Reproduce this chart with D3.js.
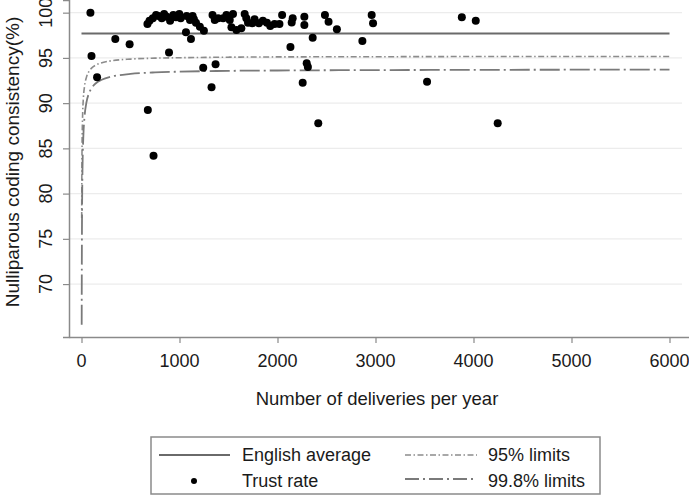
<!DOCTYPE html>
<html>
<head>
<meta charset="utf-8">
<script src="https://cdn.jsdelivr.net/npm/d3@7"></script>
<style>
  html, body { margin: 0; padding: 0; background: #fff; }
  svg { display: block; font-family: "Liberation Sans", Arial, Helvetica, sans-serif; }
</style>
</head>
<body>
<svg id="chart" width="689" height="498"></svg>
<script>
// ---- data ----
const deliveries = [
  91, 102, 159, 345, 491, 677, 735, 893, 1066, 1117, 1242, 1327, 1368,
  2132, 2145, 2257, 2274, 2274, 2298, 2310, 2359, 2416, 2484, 2521, 2606,
  2866, 2961, 2975, 3526, 3881, 4023, 4247,
  673, 694, 728, 761, 785, 819, 843, 870, 904, 937, 964, 998, 1012, 1073,
  1107, 1134, 1147, 1168, 1208, 1249, 1337, 1360, 1394, 1445, 1479, 1513,
  1546, 1530, 1581, 1631, 1665, 1682, 1699, 1743, 1766, 1810, 1851, 1892,
  1926, 1970, 2020, 2047, 2155
];
const consistency = [
  100.0, 95.2, 92.85, 97.1, 96.5, 89.24, 84.18, 95.6, 97.83, 97.1, 93.9, 91.75, 94.3,
  96.2, 98.9, 92.26, 99.56, 98.64, 94.4, 94.0, 97.23, 87.77, 99.75, 99.0, 98.16,
  96.87, 99.75, 98.83, 92.37, 99.49, 99.12, 87.77,
  98.75, 99.12, 99.38, 99.75, 99.63, 99.38, 99.86, 99.56, 99.12, 99.75, 99.49, 99.86, 99.38, 99.63,
  99.19, 99.63, 99.27, 98.89, 98.45, 98.0, 99.75, 99.19, 99.38, 99.38, 99.75, 99.19,
  99.86, 98.38, 98.09, 98.27, 99.86, 99.38, 98.89, 98.83, 99.27, 98.83, 99.12, 98.89,
  98.53, 98.75, 98.75, 99.75, 99.38
];
const englishAverage = 97.7;
const limitN    = [2.1, 3, 5, 10, 20, 30, 50, 75, 100, 150, 200, 300, 500, 750, 1000, 1500, 2000, 3000, 4000, 6000];
const limit95   = [77.3, 80.55, 84.32, 88.08, 90.67, 91.78, 92.85, 93.48, 93.84, 94.23, 94.44, 94.67, 94.87, 94.97, 95.02, 95.08, 95.11, 95.13, 95.15, 95.16];
const limit998  = [65.5, 70.66, 76.61, 82.53, 86.61, 88.36, 90.05, 91.05, 91.61, 92.23, 92.56, 92.92, 93.23, 93.40, 93.48, 93.57, 93.61, 93.65, 93.68, 93.70];
const xTicks = [0, 1000, 2000, 3000, 4000, 5000, 6000];
const yTicks = [70, 75, 80, 85, 90, 95, 100];
const xTitle = "Number of deliveries per year";
const yTitle = "Nulliparous coding consistency(%)";
const legendLabels = ["English average", "Trust rate", "95% limits", "99.8% limits"];

// ---- drawing ----
const svg = d3.select("#chart");
const x = d3.scaleLinear().domain([-127.5, 6199]).range([69, 689]);
const y = d3.scaleLinear().domain([64.15, 101.4]).range([337, 0]);

const axisColor = "#8a8a8a";
const textColor = "#1a1a1a";
const dash95 = "6,2.5,1.5,2.5";
const dash998 = "20,4,2,4";

// gridlines
svg.append("g").selectAll("line").data(yTicks).join("line")
  .attr("x1", 69).attr("x2", 682)
  .attr("y1", d => y(d)).attr("y2", d => y(d))
  .attr("stroke", "#ececec").attr("stroke-width", 1.2);

// y axis
const yAxis = svg.append("g").attr("transform", "translate(69,0)")
  .call(d3.axisLeft(y).tickValues(yTicks).tickSize(6).tickFormat(""));
yAxis.select(".domain").attr("stroke", axisColor).attr("stroke-width", 1.5);
yAxis.selectAll(".tick line").attr("stroke", axisColor).attr("stroke-width", 1.2);
svg.append("g").selectAll("text").data(yTicks).join("text")
  .attr("transform", d => `translate(52,${y(d)}) rotate(-90)`)
  .attr("text-anchor", "middle")
  .attr("font-size", 18).attr("fill", textColor)
  .text(d => d);

// x axis
const xAxis = svg.append("g").attr("transform", "translate(0,337)")
  .call(d3.axisBottom(x).tickValues(xTicks).tickSize(6).tickSizeOuter(0).tickFormat(""));
xAxis.select(".domain").attr("stroke", axisColor).attr("stroke-width", 1.5);
xAxis.selectAll(".tick line").attr("stroke", axisColor).attr("stroke-width", 1.2);
svg.append("g").selectAll("text").data(xTicks).join("text")
  .attr("x", d => x(d)).attr("y", 367)
  .attr("text-anchor", "middle")
  .attr("font-size", 18).attr("fill", textColor)
  .text(d => d);

// titles
svg.append("text").attr("x", 377).attr("y", 405)
  .attr("text-anchor", "middle").attr("font-size", 18.5).attr("fill", textColor)
  .text(xTitle);
svg.append("text").attr("transform", "translate(19,162) rotate(-90)")
  .attr("text-anchor", "middle").attr("font-size", 19).attr("fill", textColor)
  .text(yTitle);

// lines
const limitLine = vals => d3.line()
  .x((d, i) => x(limitN[i])).y((d, i) => y(vals[i]))
  .curve(d3.curveMonotoneX)(vals);

svg.append("path").attr("d", limitLine(limit95))
  .attr("fill", "none").attr("stroke", "#8c8c8c").attr("stroke-width", 1.6)
  .attr("stroke-dasharray", dash95);
svg.append("path").attr("d", limitLine(limit998))
  .attr("fill", "none").attr("stroke", "#7a7a7a").attr("stroke-width", 1.8)
  .attr("stroke-dasharray", dash998);
svg.append("line")
  .attr("x1", x(0)).attr("x2", x(6000))
  .attr("y1", y(englishAverage)).attr("y2", y(englishAverage))
  .attr("stroke", "#6a6a6a").attr("stroke-width", 2);

// points
svg.append("g").selectAll("circle").data(deliveries).join("circle")
  .attr("cx", (d, i) => x(d)).attr("cy", (d, i) => y(consistency[i]))
  .attr("r", 4).attr("fill", "#000");

// legend
const lg = svg.append("g");
lg.append("rect").attr("x", 151).attr("y", 437).attr("width", 449).attr("height", 57)
  .attr("fill", "#fff").attr("stroke", "#8a8a8a").attr("stroke-width", 1.5);
lg.append("line").attr("x1", 159).attr("x2", 230).attr("y1", 455).attr("y2", 455)
  .attr("stroke", "#6a6a6a").attr("stroke-width", 2);
lg.append("circle").attr("cx", 194).attr("cy", 481).attr("r", 3).attr("fill", "#000");
lg.append("line").attr("x1", 405).attr("x2", 477).attr("y1", 455).attr("y2", 455)
  .attr("stroke", "#8c8c8c").attr("stroke-width", 1.6).attr("stroke-dasharray", dash95);
lg.append("line").attr("x1", 405).attr("x2", 477).attr("y1", 479).attr("y2", 479)
  .attr("stroke", "#7a7a7a").attr("stroke-width", 1.8).attr("stroke-dasharray", "14,4,2,4");
const legendPos = [[242, 461], [242, 487], [488, 461], [488, 487]];
lg.selectAll("text").data(legendLabels).join("text")
  .attr("x", (d, i) => legendPos[i][0]).attr("y", (d, i) => legendPos[i][1])
  .attr("font-size", 18).attr("fill", textColor)
  .text(d => d);
</script>
</body>
</html>
